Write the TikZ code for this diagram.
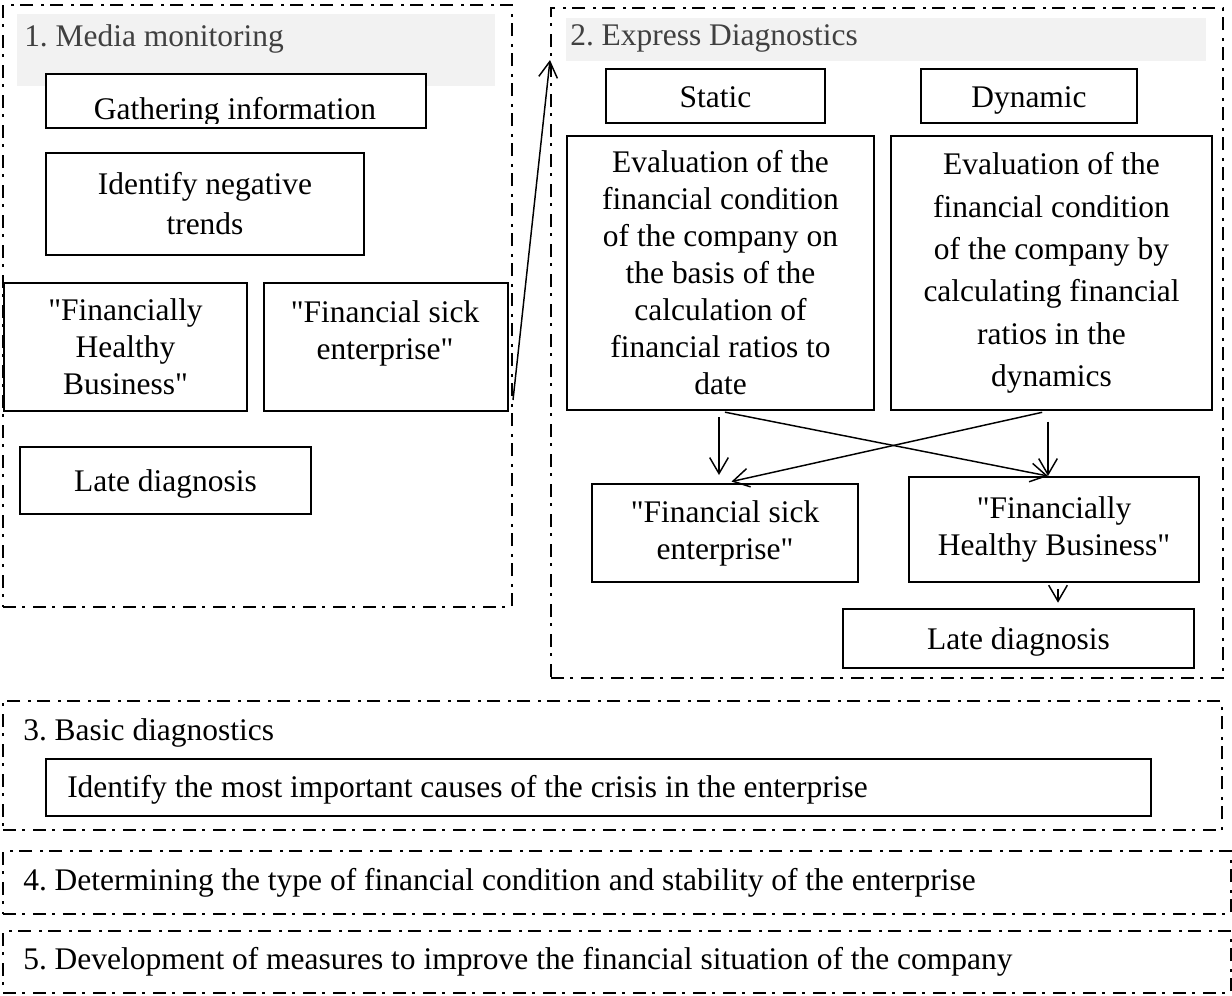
\documentclass[tikz,border=0pt]{standalone}
\usepackage{fontspec}
\setmainfont{Liberation Serif}[Ligatures=TeXOff]
\usetikzlibrary{arrows.meta}
\newcommand\ftxt{\fontsize{23.6}{27.75}\selectfont\frenchspacing}
\tikzset{
 frame/.style={draw, line width=1.5pt, dash pattern=on 9.75pt off 4.5pt on 2.25pt off 6pt, inner sep=0pt, anchor=north west},
 band/.style={fill=black!5, draw=none, inner sep=0pt, anchor=north west},
 box/.style={draw, line width=1.5pt, fill=white, align=center, inner sep=0pt, anchor=north west, font=\ftxt},
 one/.style={text height=22pt, text depth=5pt},
 lbl/.style={inner sep=0pt, anchor=base west, font=\ftxt},
 txt/.style={inner sep=0pt, align=center, font=\ftxt},
 arr/.style={line width=1.1pt, -{Straight Barb[length=12pt,width=14pt]}},
 sz/.style 2 args={minimum width=#1*0.75pt, minimum height=#2*0.75pt},
}
\begin{document}
\begin{tikzpicture}[x=0.75pt,y=-0.75pt]
\useasboundingbox (0,0) rectangle (1232,996);
% ---- frame 1
\node[frame, sz={509}{602}] (f1) at (2,4) {};
\node[band, sz={478}{72}] (h1) at (17,14) {};
\node[lbl, text=black!75] (h1t) at (24,46) {1. Media monitoring};
\node[box, sz={380}{54}] (gath) at (45,73) {};
\begin{scope}
\clip (45,73) rectangle (425,123);
\node[txt, anchor=base] (gatht) at (235,119) {Gathering information};
\end{scope}
\node[box, sz={318}{102}, font=\fontsize{23.6}{30}\selectfont] (neg) at (45,152) {Identify negative\\trends};
\node[box, sz={243}{128}] (hl1) at (3,282) {"Financially\\Healthy\\Business"};
\node[box, sz={244}{128}] (sk1) at (263,282) {};
\node[txt, anchor=north] (sk1t) at (385,300) {"Financial sick\\enterprise"};
\node[box, one, sz={291}{67}] (late1) at (19,446) {Late diagnosis};
% ---- frame 2
\node[frame, sz={672}{670}] (f2) at (550,7) {};
\node[band, sz={640}{43}] (h2) at (566,18) {};
\node[lbl, text=black!75] (h2t) at (570,45) {2. Express Diagnostics};
\node[box, one, sz={219}{54}] (static) at (605,68) {Static};
\node[box, one, sz={216}{54}] (dynamic) at (920,68) {Dynamic};
\node[box, sz={307}{274}] (evalL) at (566,135) {Evaluation of the\\financial condition\\of the company on\\the basis of the\\calculation of\\financial ratios to\\date};
\node[box, sz={321}{274}, font=\fontsize{23.6}{31.8}\selectfont] (evalR) at (890,135) {Evaluation of the\\financial condition\\of the company by\\calculating financial\\ratios in the\\dynamics};
\node[box, sz={266}{98}] (sk2) at (591,483) {"Financial sick\\enterprise"};
\node[box, sz={290}{105}] (hl2) at (908,476) {"Financially\\Healthy Business"};
\node[box, one, sz={351}{59}] (late2) at (842,608) {Late diagnosis};
% ---- connectors
\coordinate (y400) at (0,400);
\coordinate (y60) at (0,60);
\coordinate (cL) at (719,0);
\coordinate (cL2) at (725,0);
\coordinate (cR) at (1048,0);
\coordinate (cD) at (1058,0);
\draw[arr] (f1.east |- y400) -- (f2.west |- y60);
\draw[arr, shorten <=4.5pt, shorten >=6pt] (evalL.south -| cL) -- (sk2.north -| cL);
\draw[arr, shorten <=4.5pt] (evalL.south -| cL) -- (hl2.north -| cR);
\draw[arr, shorten <=8pt] (evalR.south -| cR) -- (hl2.north -| cR);
\draw[arr, shorten <=4.5pt, shorten >=5pt] (evalR.south -| cR) -- (sk2.north -| cL2);
\draw[arr, shorten <=4.5pt, shorten >=4pt] (hl2.south -| cD) -- (late2.north -| cD);
% ---- frames 3-5
\node[frame, sz={1219}{129}] (f3) at (2,700) {};
\node[lbl] (f3t) at (23,740) {3. Basic diagnostics};
\node[box, sz={1105}{57}] (causes) at (45,758) {};
\node[lbl] (causest) at (67,797) {Identify the most important causes of the crisis in the enterprise};
\node[frame, sz={1228}{63}] (f4) at (2,850) {};
\node[lbl] (f4t) at (23,890) {4. Determining the type of financial condition and stability of the enterprise};
\node[frame, sz={1228}{62}] (f5) at (2,930) {};
\node[lbl] (f5t) at (23,969) {5. Development of measures to improve the financial situation of the company};
\end{tikzpicture}
\end{document}
